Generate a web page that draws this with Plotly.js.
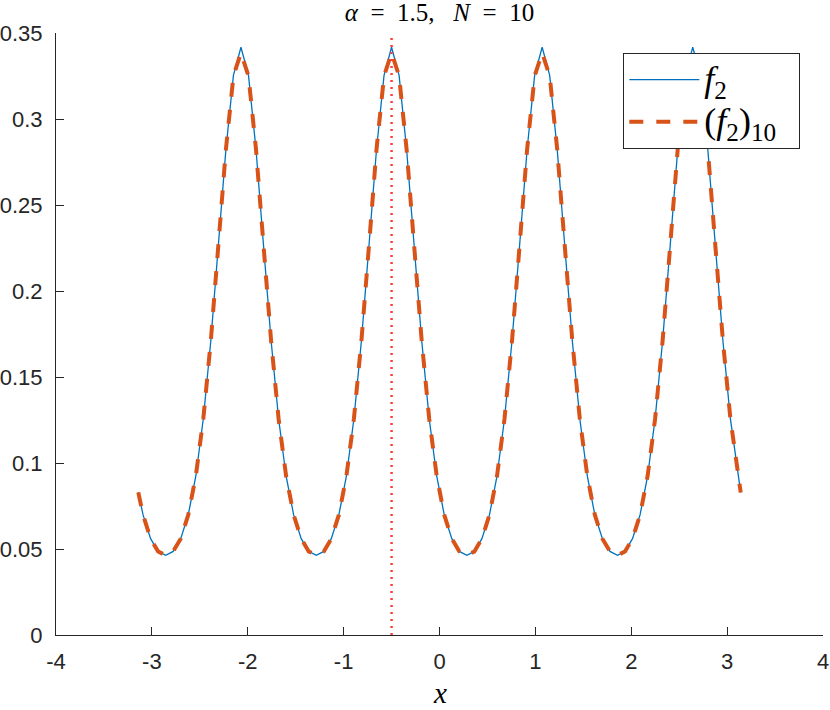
<!DOCTYPE html>
<html>
<head>
<meta charset="utf-8">
<script src="https://cdn.plot.ly/plotly-3.0.1.min.js"></script>
<style>
  html, body { margin: 0; padding: 0; background: #ffffff; }
  #chart { width: 830px; height: 710px; }
</style>
</head>
<body>
<div id="chart"></div>
<script>
// x samples on [-pi, pi]
const xVals = [-3.1416, -3.0918, -3.0133, -2.9347, -2.8562, -2.7777, -2.6991, -2.6206, -2.5420, -2.4635,
  -2.3850, -2.3064, -2.2279, -2.1493, -2.0708, -1.9923, -1.9137, -1.8352, -1.7566, -1.6781,
  -1.5996, -1.5210, -1.4425, -1.3639, -1.2854, -1.2069, -1.1283, -1.0498, -0.9712, -0.8927,
  -0.8142, -0.7356, -0.6571, -0.5785, -0.5000, -0.4215, -0.3429, -0.2644, -0.1858, -0.1073,
  -0.0288, 0.0498, 0.1283, 0.2069, 0.2854, 0.3639, 0.4425, 0.5210, 0.5996, 0.6781,
  0.7566, 0.8352, 0.9137, 0.9923, 1.0708, 1.1493, 1.2279, 1.3064, 1.3850, 1.4635,
  1.5420, 1.6206, 1.6991, 1.7777, 1.8562, 1.9347, 2.0133, 2.0918, 2.1704, 2.2489,
  2.3274, 2.4060, 2.4845, 2.5631, 2.6416, 2.7201, 2.7987, 2.8772, 2.9557, 3.0343,
  3.1128, 3.1416];

// f_2 (exact)
const yF2 = [0.0829,
  0.0698, 0.0560, 0.0486, 0.0463, 0.0486, 0.0560, 0.0698, 0.0923, 0.1257, 0.1712, 0.2263, 0.2823, 0.3254,
  0.3417, 0.3254, 0.2823, 0.2263, 0.1712, 0.1257, 0.0923, 0.0698, 0.0560, 0.0486,
  0.0463, 0.0486, 0.0560, 0.0698, 0.0923, 0.1257, 0.1712, 0.2263, 0.2823, 0.3254,
  0.3417, 0.3254, 0.2823, 0.2263, 0.1712, 0.1257, 0.0923, 0.0698, 0.0560, 0.0486,
  0.0463, 0.0486, 0.0560, 0.0698, 0.0923, 0.1257, 0.1712, 0.2263, 0.2823, 0.3254,
  0.3417, 0.3254, 0.2823, 0.2263, 0.1712, 0.1257, 0.0923, 0.0698, 0.0560, 0.0486,
  0.0463, 0.0486, 0.0560, 0.0698, 0.0923, 0.1257, 0.1712, 0.2263, 0.2823, 0.3254,
  0.3417, 0.3254, 0.2823, 0.2263, 0.1712, 0.1257, 0.0923,
  0.0829];

// (f_2)_10 approximation
const yF2N = [0.0829,
  0.0698, 0.0560, 0.0486, 0.0463, 0.0486, 0.0560, 0.0698, 0.0923, 0.1257, 0.1712, 0.2263, 0.2823, 0.3250,
  0.3385, 0.3250, 0.2823, 0.2263, 0.1712, 0.1257, 0.0923, 0.0698, 0.0560, 0.0486,
  0.0463, 0.0486, 0.0560, 0.0698, 0.0923, 0.1257, 0.1712, 0.2263, 0.2823, 0.3250,
  0.3385, 0.3250, 0.2823, 0.2263, 0.1712, 0.1257, 0.0923, 0.0698, 0.0560, 0.0486,
  0.0463, 0.0486, 0.0560, 0.0698, 0.0923, 0.1257, 0.1712, 0.2263, 0.2823, 0.3250,
  0.3385, 0.3250, 0.2823, 0.2263, 0.1712, 0.1257, 0.0923, 0.0698, 0.0560, 0.0486,
  0.0463, 0.0486, 0.0560, 0.0698, 0.0923, 0.1257, 0.1712, 0.2263, 0.2823, 0.3250,
  0.3385, 0.3250, 0.2823, 0.2263, 0.1712, 0.1257, 0.0923,
  0.0829];

// vertical marker at x = -0.5
const markX = [-0.5, -0.5];
const markY = [0, 0.35];

const xTicks = [-4, -3, -2, -1, 0, 1, 2, 3, 4];
const xTickText = ['-4', '-3', '-2', '-1', '0', '1', '2', '3', '4'];
const yTicks = [0, 0.05, 0.1, 0.15, 0.2, 0.25, 0.3, 0.35];
const yTickText = ['0', '0.05', '0.1', '0.15', '0.2', '0.25', '0.3', '0.35'];

const NB = '\u00a0';
const titleText = '<i>α</i>' + NB + NB + '=' + NB + NB + '1.5,' + NB + NB + NB + '<i>N</i>' + NB + NB + '=' + NB + NB + '10';
const xTitleText = '<i>x</i>';
const big = s => '<span style="font-size:36px">' + s + '</span>';

const axisColor = '#262626';
const serif = 'Liberation Serif, Times New Roman, serif';
const sans = 'Liberation Sans, Arial, Helvetica, sans-serif';

const traces = [
  {
    x: xVals, y: yF2, type: 'scatter', mode: 'lines',
    name: big('<i>f</i><sub>2</sub>'),
    line: { color: '#0072BD', width: 1.3 },
    legendgroup: 'a'
  },
  {
    x: xVals, y: yF2N, type: 'scatter', mode: 'lines',
    name: big('(<i>f</i><sub>2</sub>)<sub>10</sub>' + NB + NB),
    line: { color: '#D95319', width: 4, dash: '14px,13px' },
    legendgroup: 'b'
  },
  {
    x: markX, y: markY, type: 'scatter', mode: 'lines',
    showlegend: false,
    line: { color: 'rgb(255,60,60)', width: 2.5, dash: '2px,5px' },
    hoverinfo: 'skip'
  }
];

const layout = {
  width: 830, height: 710,
  margin: { l: 56, r: 7, t: 33, b: 75, pad: 0 },
  paper_bgcolor: '#ffffff', plot_bgcolor: '#ffffff',
  font: { family: sans, color: axisColor },
  title: {
    text: titleText,
    font: { family: serif, size: 25, color: '#000000' },
    x: 0.5, xref: 'paper', xanchor: 'center',
    y: 1 - 12 / 710, yref: 'container', yanchor: 'middle'
  },
  xaxis: {
    range: [-4, 4], tickvals: xTicks, ticktext: xTickText,
    ticks: 'inside', ticklen: 8, tickwidth: 1, tickcolor: axisColor,
    showline: true, linecolor: axisColor, linewidth: 1,
    showgrid: false, zeroline: false, mirror: false,
    ticklabelstandoff: 7,
    tickfont: { family: sans, size: 22, color: axisColor }
  },
  yaxis: {
    range: [0, 0.35], tickvals: yTicks, ticktext: yTickText,
    ticks: 'inside', ticklen: 8, tickwidth: 1, tickcolor: axisColor,
    showline: true, linecolor: axisColor, linewidth: 1,
    showgrid: false, zeroline: false, mirror: false,
    ticklabelstandoff: 8,
    tickfont: { family: sans, size: 22, color: axisColor }
  },
  annotations: [{
    text: xTitleText, xref: 'paper', yref: 'paper',
    x: 0.5, y: (635 - 710) / 602, xanchor: 'center', yanchor: 'bottom',
    showarrow: false, borderpad: 0,
    font: { family: serif, size: 29, color: '#000000' }
  }],
  legend: {
    x: (623.3 - 56) / 767, y: (635 - 52.7) / 602, xanchor: 'left', yanchor: 'top',
    bgcolor: '#ffffff', bordercolor: axisColor, borderwidth: 1,
    font: { family: serif, size: 30, color: '#000000' },
    itemwidth: 70, traceorder: 'grouped', tracegroupgap: 0
  },
  showlegend: true
};

Plotly.newPlot('chart', traces, layout, { displayModeBar: false, staticPlot: true });
</script>
</body>
</html>
